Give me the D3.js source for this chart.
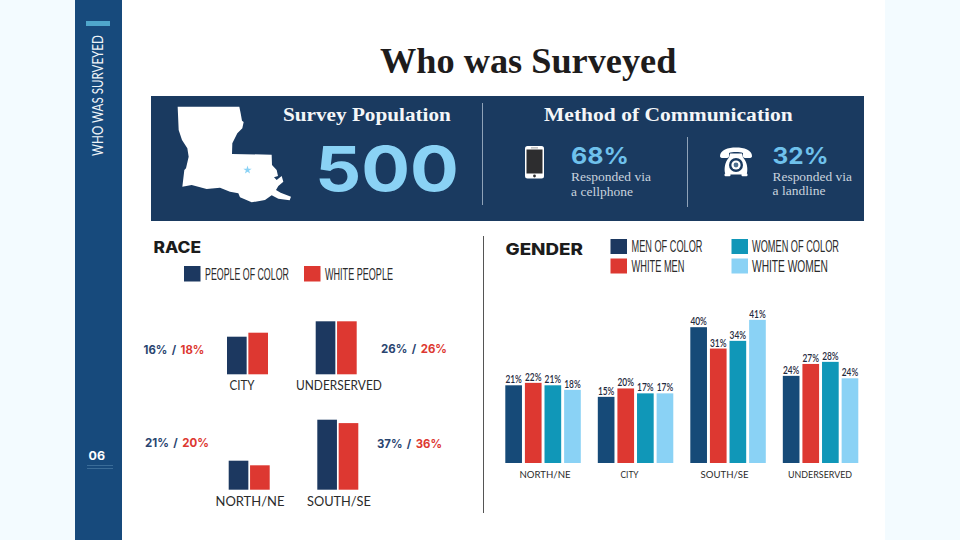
<!DOCTYPE html>
<html>
<head>
<meta charset="utf-8">
<script src="https://cdn.jsdelivr.net/npm/d3@7"></script>
<style>html,body{margin:0;padding:0;background:#fff}svg{display:block}</style>
</head>
<body>
<svg id="c" width="960" height="540"></svg>
<script>
// ---------- DATA ----------
const raceCategories = ["CITY", "UNDERSERVED", "NORTH/NE", "SOUTH/SE"];
const raceSeries = ["PEOPLE OF COLOR", "WHITE PEOPLE"];
// printed labels
const racePeopleOfColor = [16, 26, 21, 37];
const raceWhitePeople = [18, 26, 20, 36];
// bar lengths as drawn in the picture (they do not follow the printed labels exactly)
const raceBarPeopleOfColor = [18.8, 26.5, 14.5, 35];
const raceBarWhitePeople = [20.8, 26.5, 12.2, 33.3];

const genderCategories = ["NORTH/NE", "CITY", "SOUTH/SE", "UNDERSERVED"];
const genderSeries = ["MEN OF COLOR", "WHITE MEN", "WOMEN OF COLOR", "WHITE WOMEN"];
// printed labels
const menOfColor = [21, 15, 40, 24];
const whiteMen = [22, 20, 31, 27];
const womenOfColor = [21, 17, 34, 28];
const whiteWomen = [18, 17, 41, 24];
// bar lengths as drawn in the picture
const barMenOfColor = [22.2, 18.9, 38.8, 24.9];
const barWhiteMen = [22.9, 21.3, 32.7, 28.3];
const barWomenOfColor = [22.2, 19.9, 34.9, 28.9];
const barWhiteWomen = [20.9, 19.9, 40.9, 24.2];

const surveyPopulation = 500;
const cellphoneShare = 68;
const landlineShare = 32;

// ---------- STYLE ----------
const NAVY = "#1c3860", RED = "#dd3831", TEAL = "#1097b8", SKY = "#8ad2f5", BLUE = "#164a78";
const BANNER = "#1a3a60", SIDE = "#174a7c";
const SERIF = "'Liberation Serif',serif", GEO = "Inter,'Open Sans',sans-serif";
const NARROW = "'Liberation Sans',sans-serif", SANS = "Lato,'Open Sans',sans-serif";

const svg = d3.select("#c");
// place a text so that it spans exactly w pixels, by horizontal scaling
function squeeze(sel, x, y, w, anchor) {
  sel.attr("x", 0).attr("y", 0).attr("text-anchor", anchor || "start");
  const nat = sel.node().getComputedTextLength();
  sel.attr("transform", `translate(${x},${y}) scale(${w / nat},1)`);
  return sel;
}
function fit(parent, str, x, y, w, o = {}) {
  const t = parent.append("text").text(str)
    .attr("font-family", o.font || SANS).attr("font-size", o.size || 12)
    .attr("font-weight", o.weight || 400).attr("fill", o.fill || "#222");
  return squeeze(t, x, y, w, o.anchor);
}
const rect = (x, y, w, h, fill, rx) => svg.append("rect").attr("x", x).attr("y", y).attr("width", w).attr("height", h).attr("fill", fill).attr("rx", rx || 0);

// ---------- PAGE ----------
rect(0, 0, 960, 540, "#f3fbff");
rect(122, 0, 763, 540, "#ffffff");
rect(75, 0, 47, 540, SIDE);
rect(86, 21, 24, 5, "#4fa6cb");
{
  const t = svg.append("text").text("WHO WAS SURVEYED").attr("font-family", SANS).attr("font-size", 15).attr("font-weight", 400).attr("fill", "#eef3f7").attr("x", 0).attr("y", 0);
  const nat = t.node().getComputedTextLength();
  t.attr("transform", `translate(103,156) rotate(-90) scale(${121 / nat},1)`);
}
fit(svg, "06", 88.5, 460, 16.5, {font: GEO, size: 11.5, weight: 700, fill: "#fff"});
rect(87, 465, 26, 1, "#3a6c98");
rect(87, 468, 26, 1, "#3a6c98");

fit(svg, "Who was Surveyed", 380, 73, 296.5, {font: SERIF, size: 36.5, weight: 700, fill: "#1e1c1c"});

// ---------- BANNER ----------
rect(151, 96, 713, 125, BANNER);
rect(482, 103, 1, 102, "#8fa2b8");
rect(687, 137, 1, 70, "#8fa2b8");
fit(svg, "Survey Population", 283, 121, 168, {font: SERIF, size: 19.5, weight: 700, fill: "#f4f6f8"});
fit(svg, "Method of Communication", 544, 121, 249, {font: SERIF, size: 19.5, weight: 700, fill: "#f4f6f8"});
fit(svg, String(surveyPopulation), 315, 191, 144, {font: GEO, size: 62, weight: 700, fill: SKY});

// Louisiana silhouette
const la = [[83,50],[268,50],[272,70],[276,92],[281,96],[277,115],[262,130],[247,160],[246,192],[365,194],[366,225],[380,240],[384,258],[372,262],[380,270],[395,258],[400,275],[385,288],[378,300],[392,308],[423,320],[419,331],[385,326],[365,316],[345,330],[305,337],[270,322],[265,310],[240,305],[210,293],[170,297],[125,285],[97,290],[103,240],[108,235],[116,200],[112,175],[96,150],[86,120]];
const lx = d3.scaleLinear().domain([0, 1020]).range([150, 490]);
const ly = d3.scaleLinear().domain([0, 420]).range([90, 230]);
svg.append("path").attr("d", d3.line().x(d => lx(d[0])).y(d => ly(d[1])).curve(d3.curveLinearClosed)(la)).attr("fill", "#fff");
svg.append("path").attr("transform", "translate(247.5,170)").attr("d", d3.symbol(d3.symbolStar, 22)()).attr("fill", SKY);

// Phone icon
rect(525, 146, 19, 32.5, "#fff", 2.5);
rect(526.5, 149.5, 16, 24, "#2d2d2f");
svg.append("circle").attr("cx", 534.5).attr("cy", 176).attr("r", 1.4).attr("fill", "#2d2d2f");
rect(531, 147.5, 7, .8, "#888");

// Telephone icon
const tel = svg.append("g").attr("transform", "translate(720,147.5)");
tel.append("path").attr("fill", "#fff").attr("d", "M0,8.5 C0,2.5 8,0 16,0 C24,0 32,2.5 32,8.5 C32,10 31,10.5 29,10.5 L25,10.5 C23.5,10.5 23,9.5 23,8.5 L23,5.5 C20,4.2 12,4.2 9,5.5 L9,8.5 C9,9.5 8.5,10.5 7,10.5 L3,10.5 C1,10.5 0,10 0,8.5 Z");
tel.append("path").attr("fill", "#fff").attr("d", "M10,6 L22,6 L23,10 C27,14 28,21 27,25.5 C27,26.5 26,27 25,27 L7,27 C6,27 5,26.5 5,25.5 C4,21 5,14 9,10 Z");
rect(724.5, 173.5, 6, 2.7, "#fff", 1); rect(741.5, 173.5, 6, 2.7, "#fff", 1);
tel.append("circle").attr("cx", 16).attr("cy", 17.5).attr("r", 7).attr("fill", BANNER);
tel.append("circle").attr("cx", 16).attr("cy", 17.5).attr("r", 4.6).attr("fill", "#fff");
tel.append("circle").attr("cx", 16).attr("cy", 17.5).attr("r", 2.4).attr("fill", "#4f7090");

fit(svg, cellphoneShare + "%", 571, 164.3, 58, {font: GEO, size: 23, weight: 700, fill: "#6fc1ec"});
fit(svg, landlineShare + "%", 772.5, 164.3, 56, {font: GEO, size: 23, weight: 700, fill: "#6fc1ec"});
fit(svg, "Responded via", 571, 181, 80, {font: SERIF, size: 13.5, fill: "#c9d3de"});
fit(svg, "a cellphone", 571, 196, 62, {font: SERIF, size: 13.5, fill: "#c9d3de"});
fit(svg, "Responded via", 772.5, 181, 79.5, {font: SERIF, size: 13.5, fill: "#c9d3de"});
fit(svg, "a landline", 772.5, 195, 53, {font: SERIF, size: 13.5, fill: "#c9d3de"});

// center divider
rect(483, 236, 1, 277, "#555");

// ---------- RACE ----------
fit(svg, "RACE", 153.5, 252.5, 47.5, {font: GEO, size: 15.5, weight: 800, fill: "#1c1c1c"});
const raceColor = d3.scaleOrdinal().domain(raceSeries).range([NAVY, RED]);
const raceLegend = [[184, 205, 84], [304, 325, 68]];
raceSeries.forEach((s, i) => {
  rect(raceLegend[i][0], 266, 16.5, 15.5, raceColor(s));
  fit(svg, s, raceLegend[i][1], 279.5, raceLegend[i][2], {font: NARROW, size: 16, fill: "#2a2a2a"});
});

const raceH = d3.scaleLinear().domain([0, 40]).range([0, 80]);
const raceLayout = [
  {x0: 227, base: 374.3, cx: 242, cw: 25, cy: 390, lx: 143.5, lw: 61, ly: 354},
  {x0: 315.7, base: 374.3, cx: 339, cw: 86, cy: 390, lx: 381, lw: 66, ly: 353},
  {x0: 228.7, base: 489.7, cx: 250, cw: 69, cy: 506, lx: 145, lw: 64, ly: 447},
  {x0: 317.3, base: 489.7, cx: 339, cw: 64, cy: 506, lx: 377, lw: 65, ly: 448}
];
const raceInner = d3.scaleBand().domain(raceSeries).range([0, 41]).paddingInner(0.08);
const raceRows = raceCategories.map((c, i) => ({c, i, vals: [raceBarPeopleOfColor[i], raceBarWhitePeople[i]]}));
const raceG = svg.selectAll("g.race").data(raceRows).join("g").attr("class", "race");
raceG.selectAll("rect").data(d => d.vals.map((v, k) => ({v, k, i: d.i}))).join("rect")
  .attr("x", d => raceLayout[d.i].x0 + raceInner(raceSeries[d.k]))
  .attr("y", d => raceLayout[d.i].base - raceH(d.v))
  .attr("width", raceInner.bandwidth())
  .attr("height", d => raceH(d.v))
  .attr("fill", d => raceColor(raceSeries[d.k]));
raceRows.forEach(({c, i}) => {
  const L = raceLayout[i];
  fit(svg, c, L.cx - L.cw / 2, L.cy, L.cw, {font: SANS, size: 12.5, fill: "#2b2b2b"});
  const t = svg.append("text").attr("font-family", GEO).attr("font-size", 11.5).attr("font-weight", 700);
  t.append("tspan").attr("fill", "#2a4570").text(racePeopleOfColor[i] + "%\u2009 / \u2009");
  t.append("tspan").attr("fill", RED).text(raceWhitePeople[i] + "%");
  squeeze(t, L.lx, L.ly, L.lw);
});

// ---------- GENDER ----------
fit(svg, "GENDER", 505.5, 254.5, 77.5, {font: GEO, size: 16, weight: 800, fill: "#1c1c1c"});
const genderColor = d3.scaleOrdinal().domain(genderSeries).range([BLUE, RED, TEAL, SKY]);
const genderLegend = [
  {sx: 610.5, sy: 239, tx: 631.5, tw: 71, ty: 252, fill: NAVY},
  {sx: 610.5, sy: 258.5, tx: 631.5, tw: 53, ty: 271.5, fill: RED},
  {sx: 731.5, sy: 239, tx: 752, tw: 87, ty: 252, fill: TEAL},
  {sx: 731.5, sy: 258.5, tx: 752, tw: 76, ty: 271.5, fill: SKY}
];
genderSeries.forEach((s, i) => {
  const L = genderLegend[i];
  rect(L.sx, L.sy, 16.5, 15, L.fill);
  fit(svg, s, L.tx, L.ty, L.tw, {font: NARROW, size: 16, fill: "#2a2a2a"});
});

const gBase = 463;
const gx = d3.scaleBand().domain(genderCategories).range([505.3, 858.3]).paddingInner(0.184);
const gInner = d3.scaleBand().domain(genderSeries).range([0, gx.bandwidth()]).paddingInner(0.15);
const gh = d3.scaleLinear().domain([0, 41]).range([0, 143.5]);
const gBars = [barMenOfColor, barWhiteMen, barWomenOfColor, barWhiteWomen];
const gVals = [menOfColor, whiteMen, womenOfColor, whiteWomen];
const gG = svg.selectAll("g.gender").data(genderCategories).join("g").attr("class", "gender")
  .attr("transform", d => `translate(${gx(d)},0)`);
const gItems = (c, i) => genderSeries.map((s, k) => ({s, h: gBars[k][i], v: gVals[k][i]}));
gG.selectAll("rect").data(gItems).join("rect")
  .attr("x", d => gInner(d.s)).attr("y", d => gBase - gh(d.h))
  .attr("width", gInner.bandwidth()).attr("height", d => gh(d.h))
  .attr("fill", d => genderColor(d.s));
gG.selectAll("text").data(gItems).join("text")
  .attr("font-family", SANS).attr("font-size", 10.5).attr("font-weight", 600)
  .attr("fill", "#1f2a40").text(d => d.v + "%")
  .each(function (d) {
    squeeze(d3.select(this), gInner(d.s) + gInner.bandwidth() / 2, gBase - gh(d.h) - 2, 16.5, "middle");
  });

const gAxis = svg.append("g").attr("transform", `translate(0,${gBase})`).call(d3.axisBottom(gx).tickSize(0).tickPadding(8));
gAxis.select(".domain").remove();
const gLabelWidth = [51, 18, 48, 64], gLabelShift = [2, -6, -3.5, -0.5];
gAxis.selectAll("text").attr("font-family", SANS).attr("font-size", 10).attr("fill", "#2b2b2b")
  .attr("dx", (d, i) => gLabelShift[i]).attr("textLength", (d, i) => gLabelWidth[i]).attr("lengthAdjust", "spacingAndGlyphs");
</script>
</body>
</html>
